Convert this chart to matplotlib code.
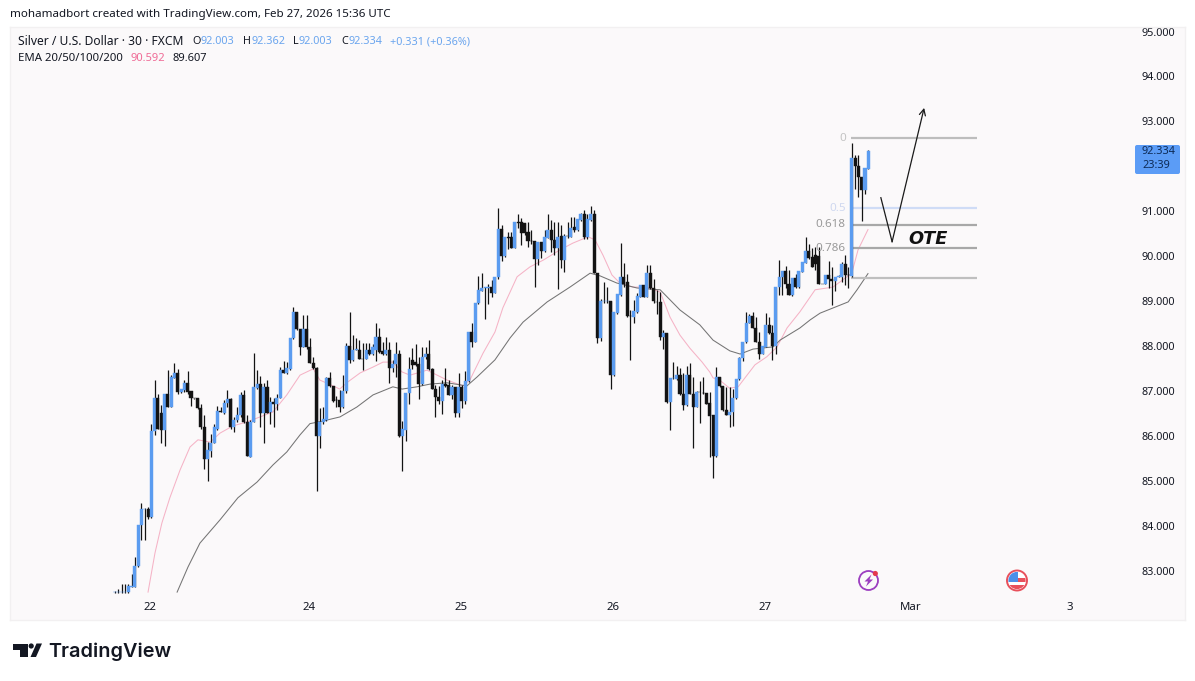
import matplotlib
matplotlib.use("Agg")
import matplotlib.pyplot as plt
from matplotlib.patches import Circle, Polygon, Rectangle, FancyBboxPatch

opens = [82.52,82.52,82.52,82.52,82.52,82.64,82.64,83.09,84.01,84.36,84.36,84.20,
86.10,86.83,86.50,86.13,86.94,86.65,87.28,87.39,86.98,87.02,
87.17,86.99,86.85,86.83,86.61,86.20,85.48,85.67,85.84,86.16,
86.55,86.51,86.72,86.82,86.19,86.36,86.46,86.91,86.31,85.53,
86.31,87.07,87.15,86.50,87.08,86.53,86.76,86.71,86.85,87.46,
87.40,87.48,88.17,88.75,88.37,87.98,88.37,87.97,87.63,87.50,
86.00,86.31,86.35,87.28,87.11,86.80,86.80,
86.63,87.00,88.00,87.68,87.92,87.92,87.71,87.70,87.92,87.82,
87.90,88.20,87.89,87.82,87.91,87.50,87.59,87.82,85.99,86.13,
86.96,87.68,87.65,87.60,87.15,87.76,87.82,87.48,87.05,86.87,
86.78,87.15,87.13,86.91,87.08,86.51,87.08,86.77,87.22,88.31,
88.09,88.95,89.23,89.30,89.30,89.32,89.18,89.53,90.60,90.01,
90.42,90.42,90.19,90.75,90.75,90.73,90.53,90.34,90.34,89.93,
90.32,90.11,90.41,90.58,90.36,90.19,90.45,89.91,90.45,90.43,
90.64,90.57,90.80,90.94,90.42,90.80,90.94,89.62,88.17,88.99,
88.99,88.99,87.35,88.74,89.13,89.54,89.43,88.67,88.65,88.76,
89.09,89.36,89.09,89.62,89.28,88.98,88.98,88.20,88.28,86.76,
87.28,87.27,87.36,86.92,86.68,87.36,86.94,86.64,86.98,86.96,
86.96,86.72,86.46,85.55,87.31,87.10,86.58,86.46,86.52,86.83,
87.26,87.74,88.08,88.51,88.66,88.40,88.09,87.83,87.98,88.46,
88.28,88.00,89.32,89.54,89.67,89.39,89.13,89.52,89.32,89.65,
89.85,90.11,89.98,90.02,90.00,89.39,89.38,89.57,89.50,89.44,
89.54,89.54,89.82,89.58,89.56,92.19,92.00,91.76,91.47,91.95]

closes = [82.52,82.53,82.53,82.52,82.66,82.65,83.10,84.01,84.36,84.37,84.20,86.10,
86.83,86.16,86.13,86.94,86.65,87.30,87.39,86.98,87.04,87.17,
86.98,86.85,86.84,86.61,86.20,85.48,85.68,85.84,86.20,86.55,
86.52,86.73,86.82,86.19,86.36,86.46,86.91,86.31,85.55,86.31,
87.08,87.15,86.50,87.08,86.51,86.76,86.71,86.85,87.46,87.40,
87.50,88.18,88.75,88.37,87.98,88.37,87.98,87.63,87.50,86.00,
86.31,86.37,87.28,87.11,86.77,86.79,86.63,
87.00,88.00,87.68,87.92,87.93,87.70,87.70,87.92,87.82,87.98,
88.20,87.87,87.82,87.91,87.50,87.59,87.82,85.99,86.14,86.96,
87.48,87.57,87.57,87.15,87.76,87.82,87.48,87.05,86.87,86.78,
87.15,87.11,86.91,87.09,86.51,87.08,86.77,87.22,88.31,88.09,
88.95,89.24,89.28,89.31,89.31,89.18,89.53,90.60,90.01,90.42,
90.41,90.19,90.75,90.74,90.52,90.52,90.34,90.33,89.93,90.32,
90.12,90.42,90.58,90.36,90.19,90.43,89.91,90.45,90.44,90.62,
90.57,90.82,90.94,90.42,90.82,90.94,89.62,88.18,89.00,89.00,
89.00,87.35,88.76,89.16,89.54,89.39,88.67,88.66,88.78,89.11,
89.36,89.09,89.62,89.28,89.01,88.97,88.20,88.28,86.76,87.28,
87.29,87.36,86.92,86.68,87.36,86.94,86.64,86.98,86.97,86.95,
86.70,86.44,85.55,87.31,87.10,86.57,86.46,86.53,86.83,87.26,
87.74,88.09,88.52,88.66,88.40,88.09,87.83,87.99,88.46,88.28,
88.00,89.32,89.54,89.67,89.39,89.13,89.52,89.32,89.67,89.87,
90.11,89.96,89.76,89.82,89.39,89.38,89.57,89.50,89.44,89.54,
89.56,89.82,89.58,89.57,92.19,92.00,91.76,91.48,91.97,92.33]

highs = [82.54,82.60,82.71,82.70,82.71,82.92,83.31,84.01,84.51,84.40,84.42,86.27,
87.24,86.94,86.68,86.94,87.46,87.35,87.63,87.48,87.04,87.24,
87.44,87.00,86.85,86.83,86.70,86.46,85.87,86.05,86.27,86.66,
86.65,86.79,87.03,86.85,86.42,86.65,86.98,87.03,86.46,86.35,
87.85,87.46,87.33,87.17,87.25,86.87,86.83,86.94,87.54,87.66,
87.65,88.18,88.86,88.75,88.37,88.69,88.69,88.17,87.76,87.54,
86.61,86.63,87.30,87.42,87.11,86.88,87.02,
87.35,88.06,88.75,88.24,88.17,88.13,88.06,88.06,88.07,88.04,
88.52,88.39,88.09,88.19,88.09,87.69,88.09,87.92,86.33,86.96,
87.76,87.96,88.04,87.76,87.98,87.98,88.14,87.50,87.13,87.10,
87.24,87.52,87.24,87.13,87.08,87.39,87.13,87.44,88.31,88.52,
88.96,89.56,89.63,89.31,89.39,89.47,89.54,91.06,90.69,90.42,
90.54,90.54,90.77,90.94,90.84,90.73,90.77,90.59,90.34,90.32,
90.32,90.58,90.94,90.80,90.77,90.77,90.69,90.50,90.77,90.88,
90.88,90.82,90.97,91.02,90.94,91.11,91.02,89.62,89.04,89.43,
89.32,88.99,88.76,89.16,90.30,89.85,89.61,88.81,89.02,89.17,
89.36,89.36,89.80,89.80,89.50,89.24,89.20,88.35,88.29,87.28,
87.65,87.55,87.52,87.39,87.55,87.62,87.31,87.00,87.22,87.31,
86.96,86.98,86.46,87.54,87.31,87.10,87.09,87.09,87.05,87.26,
87.76,88.09,88.76,88.72,88.76,88.65,88.31,87.99,88.74,88.65,
88.46,89.32,89.91,89.67,89.77,89.69,89.52,89.61,89.67,89.87,
90.43,90.28,90.17,90.21,90.21,89.39,89.57,89.89,89.76,89.54,
89.57,89.87,90.02,89.76,92.52,92.25,92.25,91.76,91.97,92.36]

lows = [82.50,82.50,82.50,82.50,82.50,82.64,82.64,83.07,83.68,83.68,84.14,84.18,
86.02,86.14,85.83,85.78,86.65,86.65,87.28,86.94,86.96,86.98,
86.94,86.66,86.82,86.59,86.16,85.27,84.99,85.53,85.83,86.13,
86.52,86.48,86.65,86.16,86.09,86.31,86.42,86.29,85.55,85.53,
86.30,87.05,86.20,85.84,86.50,86.26,86.19,86.57,86.83,87.39,
87.37,87.47,88.15,88.35,87.80,87.97,87.94,87.61,87.48,84.78,
85.72,86.26,86.33,87.08,86.75,86.65,86.53,
86.61,86.96,87.61,87.66,87.90,87.70,87.46,87.70,87.80,87.80,
87.66,87.85,87.80,87.80,87.18,87.42,87.31,85.98,85.21,85.89,
86.70,87.49,87.56,86.81,87.13,87.72,87.46,87.04,86.41,86.70,
86.48,87.09,86.91,86.81,86.42,86.42,86.62,86.71,87.19,87.98,
88.08,88.93,89.22,88.61,88.93,89.10,89.17,89.50,89.90,89.99,
90.15,90.17,90.17,90.62,90.25,90.47,90.21,90.28,89.32,89.80,
89.95,90.10,90.40,90.10,90.02,89.26,89.73,89.65,90.40,90.42,
90.54,90.55,90.79,90.39,90.39,90.79,89.62,88.06,88.12,88.95,
88.95,87.04,87.33,88.72,89.12,89.32,88.65,87.69,88.50,88.74,
89.08,89.08,89.08,89.27,88.96,88.70,88.13,87.94,86.73,86.13,
87.27,87.25,86.90,86.57,86.67,86.93,85.73,86.63,86.29,86.94,
86.70,85.53,85.06,85.53,87.09,86.56,86.46,86.20,86.22,86.81,
87.24,87.67,88.06,88.50,88.39,88.08,87.72,87.82,87.97,88.26,
87.68,87.83,89.13,89.13,89.30,89.13,89.11,89.30,89.30,89.64,
89.84,89.94,89.76,89.69,89.37,89.37,89.37,89.28,88.91,89.23,
89.53,89.43,89.35,89.28,89.54,91.50,91.32,90.78,91.39,91.95]

ema20_bar = [10,12.1,14.2,16.6,19.7,22.7,25.1,28.8,31.8,35.7,40,43.9,47.8,52,56,60,62,66,68,70.5,74.2,78.1,81.1,84.1,86.9,89.3,94.4,97.5,100.5,105.3,107.4,111.4,115,117.4,121.7,125.6,129.6,134.7,138.6,143.2,145.3,147.7,150.4,152.8,156.8,161,165,168,171,174,177.7,180,181,183,186,188.6,191.3,193.7,197.3,200.4,203.4,207.3,211.9,217.3,223,224.9,227.9]
ema20_val = [82.52,83.39,84.06,84.62,85.24,85.75,85.91,85.86,86.06,86.22,86.31,86.42,86.53,86.91,87.35,87.49,87.24,87.11,87.04,87.20,87.40,87.53,87.64,87.64,87.42,87.35,87.46,87.35,87.24,87.11,87.24,87.84,88.31,88.85,89.54,89.76,89.91,90.14,90.29,90.43,90.36,90.02,89.58,89.40,89.31,89.31,89.20,88.64,88.24,87.95,87.64,87.42,87.29,87.24,87.06,87.09,87.35,87.58,87.76,87.98,88.40,88.76,89.25,89.31,89.62,90.14,90.59]
ema50_bar = [18.8,22.1,25.7,31.8,37.2,43,47.8,52,56,59,63,68.1,73.2,78.1,84.1,86.9,91.4,95.3,100.5,106.5,109.6,115,119.6,123.5,130.8,137.7,143.8,146.8,151.9,158,165,171,177,181,186.1,189.2,193.1,199.2,201.3,207.3,210.4,213.4,221.9,224.6,227.9]
ema50_val = [82.52,83.08,83.61,84.13,84.62,84.97,85.35,85.64,86.02,86.27,86.33,86.42,86.64,86.91,87.09,87.04,87.09,87.15,87.18,87.11,87.31,87.69,88.18,88.53,88.98,89.31,89.62,89.56,89.40,89.29,89.25,88.80,88.47,88.13,87.89,87.82,87.93,87.98,88.13,88.40,88.58,88.73,88.98,89.25,89.61]

fib_levels = [92.62, 91.06, 90.70, 90.17, 89.51]
fib_labels = ["0", "0.5", "0.618", "0.786", ""]
fib_colors = ["#bdbdbd", "#cfdcf6", "#a8a8a8", "#a8a8a8", "#bfbfbf"]
fib_text_colors = ["#c4c4c4", "#cfd8f0", "#9a9a9a", "#9a9a9a", "#bfbfbf"]
fib_span = [222.8, 260.9]

path_bar = [231.8, 235.2, 244.9]
path_val = [91.30, 90.32, 93.30]

price_ticks = [83, 84, 85, 86, 87, 88, 89, 90, 91, 93, 94, 95]
date_ticks = [10.6, 58.7, 104.7, 150.7, 196.7, 240.9, 289.0]
date_labels = ["22", "24", "25", "26", "27", "Mar", "3"]

BLUE = "#5b9cf0"
BLACK = "#131313"
FONT = "Noto Sans"
W, H = 1195, 681

fig = plt.figure(figsize=(W / 100, H / 100), dpi=100, facecolor="white")
L, R, T, B = 10, 1185, 27, 620
ax = fig.add_axes([L / W, 1 - B / H, (R - L) / W, (B - T) / H], facecolor="#fbf9fa")
ax.set_xlim((L - 115) / 3.304, (R - 115) / 3.304)
ax.set_ylim(95 - (B - 31.5) / 44.92, 95 - (T - 31.5) / 44.92)
for s in ax.spines.values():
    s.set_color("#f2f0f1")
    s.set_linewidth(1)

xs = list(range(len(closes)))
ax.plot(ema20_bar, ema20_val, color="#f5b3c6", lw=0.75, zorder=1)
ax.plot(ema50_bar, ema50_val, color="#747474", lw=0.75, zorder=1)
ax.hlines(fib_levels, fib_span[0], fib_span[1], colors=fib_colors, lw=1.6, zorder=1.5)
ax.vlines(xs, lows, highs, color=BLACK, lw=0.9, zorder=2)
for x, o, c in zip(xs, opens, closes):
    col = BLUE if c >= o else BLACK
    ax.bar(x, abs(c - o), bottom=min(o, c), width=0.92, color=col, edgecolor=col, lw=0.3, zorder=3)

for lv, lab, col in zip(fib_levels, fib_labels, fib_text_colors):
    ax.text(fib_span[0] - 1.6, lv, lab, ha="right", va="center", color=col, fontsize=8.4, family=FONT, zorder=4)

ax.plot(path_bar[:2], path_val[:2], color="#1a1a1a", lw=0.9, zorder=4)
ax.annotate("", xy=(path_bar[2], path_val[2]), xytext=(path_bar[1], path_val[1]),
            arrowprops=dict(arrowstyle="->", color="#1a1a1a", lw=0.9, mutation_scale=11, shrinkA=0, shrinkB=0), zorder=4)
ax.text(246, 90.39, "OTE", ha="center", va="center", fontsize=12.8, style="italic", weight="bold",
        family="DejaVu Sans", color="#111111", zorder=4)

ax.set_yticks(price_ticks)
ax.set_yticklabels([f"{p:.3f}" for p in price_ticks])
ax.yaxis.tick_right()
ax.tick_params(axis="y", length=0, pad=-31, labelsize=7.8, labelcolor="#131722")
ax.set_xticks(date_ticks)
ax.set_xticklabels(date_labels)
ax.tick_params(axis="x", length=0, pad=-13, labelsize=8.2, labelcolor="#131722")
for t in ax.get_xticklabels() + ax.get_yticklabels():
    t.set_family(FONT)
ax.get_xticklabels()[5].set_weight("bold")

ov = fig.add_axes([0, 0, 1, 1], facecolor="none")
ov.set_xlim(0, W)
ov.set_ylim(H, 0)
ov.axis("off")

def label(x, y, s, color="#131722", size=7.8, **kw):
    ov.text(x, y, s, color=color, fontsize=size, family=FONT, va="center", ha="left", **kw)

label(10, 14.5, "mohamadbort created with TradingView.com, Feb 27, 2026 15:36 UTC", size=8.35)
label(18, 41.5, "Silver / U.S. Dollar · 30 · FXCM", size=8.7)
VAL = "#6aa5ee"
for x, s, c in [(192, "O", None), (201, "92.003", VAL), (243, "H", None), (252, "92.362", VAL),
                (293, "L", None), (299, "92.003", VAL), (341, "C", None), (349, "92.334", VAL),
                (390, "+0.331 (+0.36%)", VAL)]:
    label(x, 41.5, s, color=c or "#131722")
label(18, 58.5, "EMA 20/50/100/200", size=8.2)
label(131, 58.5, "90.592", color="#ef6b96", size=8.0)
label(173, 58.5, "89.607", size=8.0)

ov.add_patch(FancyBboxPatch((1135, 145), 45, 29, boxstyle="round,pad=0,rounding_size=2", fc="#5b9cf6", ec="none"))
label(1142, 152, "92.334", color="#0d2a55")
label(1142, 166, "23:39", color="#0d2a55")

# event icons
ov.add_patch(Circle((868.5, 580.5), 9.5, fc="none", ec="#9c3ec0", lw=1.3))
ov.add_patch(Polygon([(871.5, 574.5), (864.5, 581.5), (868, 581.5), (866, 586.5), (873, 579.5), (869.5, 579.5)], fc="#9c3ec0", ec="none"))
ov.add_patch(Circle((875.3, 573.5), 2.6, fc="#e5394f", ec="none"))
ring = Circle((1017, 580.5), 10, fc="white", ec="#e8505b", lw=1.4)
ov.add_patch(ring)
inner = Circle((1017, 580.5), 8.6, transform=ov.transData)
for xy, w, h, c in [((1008, 572), 10, 10, "#4c8fe8"), ((1018, 578), 8, 4, "#e8505b"), ((1008, 584.5), 18, 5, "#e8505b")]:
    r = Rectangle(xy, w, h, fc=c, ec="none")
    ov.add_patch(r)
    r.set_clip_path(inner)

# TradingView logo
ov.add_patch(Polygon([(12.7, 643.5), (28, 643.5), (28, 657), (20.5, 657), (20.5, 649.5), (12.7, 649.5)], fc="#131722", ec="none"))
ov.add_patch(Circle((31.2, 646), 2.6, fc="#131722", ec="none"))
ov.add_patch(Polygon([(30.5, 657), (36.5, 643.5), (42, 643.5), (36, 657)], fc="#131722", ec="none"))
ov.text(48.5, 651.5, "TradingView", color="#131722", fontsize=14.3, family="Inter", weight="semibold", va="center", ha="left")

fig.savefig("out.png", dpi=100)
